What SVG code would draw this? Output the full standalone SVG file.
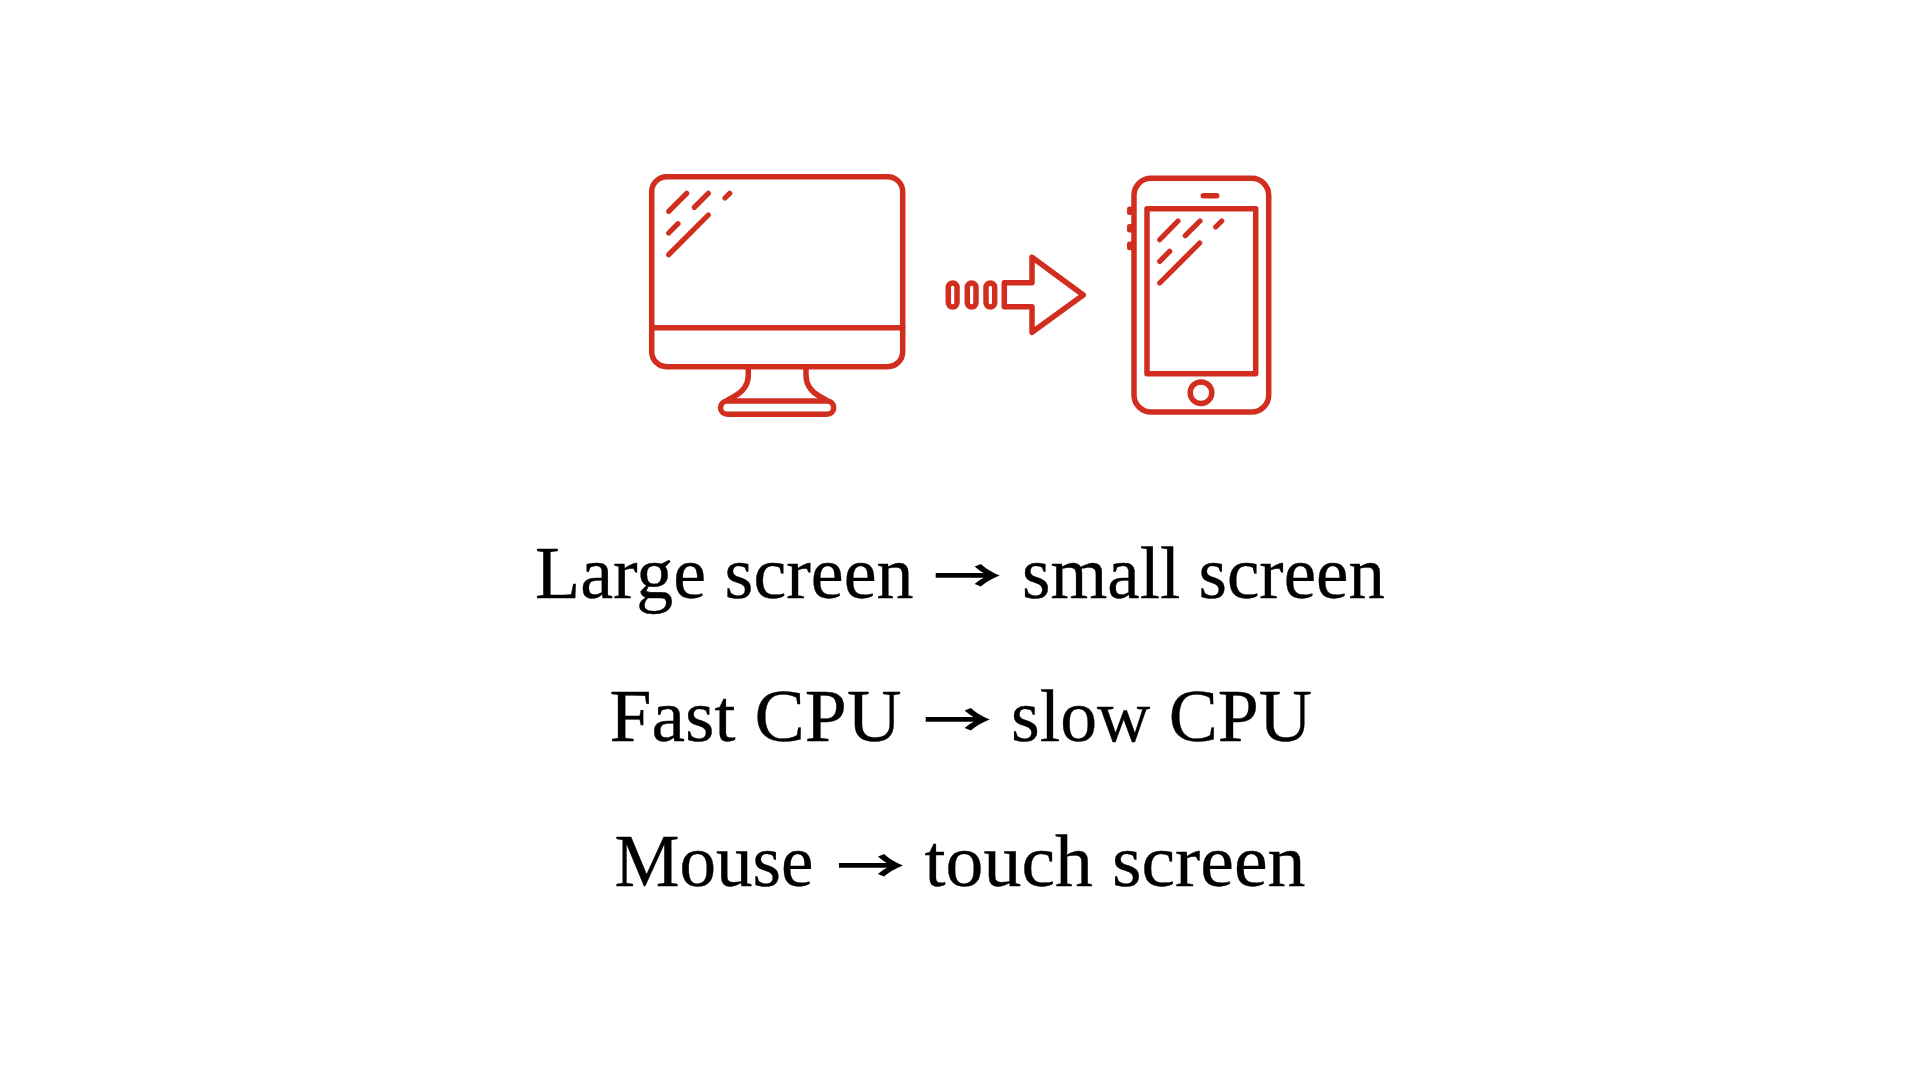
<svg xmlns="http://www.w3.org/2000/svg" width="1920" height="1080" viewBox="0 0 1920 1080">
<style>
.i{fill:none;stroke:#d12e1f;stroke-width:5.5;stroke-linecap:round;stroke-linejoin:round}
.g{stroke-width:5.2}
.b{fill:#d12e1f;stroke:none}
.t{font-family:"Liberation Serif","Times New Roman",serif;font-size:73px;fill:#000;stroke:#000;stroke-width:.35}
.a{font-family:"Noto Sans CJK SC",sans-serif;font-size:42px;fill:#000;stroke:#000;stroke-width:1.8}
</style>
<rect width="1920" height="1080" fill="#fff"/>
<g id="monitor" class="i">
<rect x="651.7" y="176.7" width="251" height="190" rx="15"/>
<path d="M651.7 327.7H902.7"/>
<path d="M748.3 367V375C748.3 385 742 392 735 396L728 400"/>
<path d="M806 367V375C806 385 812 392 819 396L826 400"/>
<rect x="720.6" y="401" width="113.1" height="13.3" rx="6.6"/>
<path class="g" d="M686.7 193.3L668.7 211.3M708.3 193.3L694.3 207.3M729.7 193.3L725 198M708.3 215L668.7 254.7M678 223.7L668.7 233"/>
</g>
<g id="connectors" class="i">
<rect x="948.3" y="283" width="8.7" height="24" rx="4.3"/>
<rect x="967.3" y="283" width="8.7" height="24" rx="4.3"/>
<rect x="986" y="283" width="8.7" height="24" rx="4.3"/>
<path d="M1004.3 282.7H1032V257.3L1083.3 295L1032 332.3V306.7H1004.3Z"/>
</g>
<g id="phone" class="i">
<rect x="1134" y="178.3" width="134.7" height="233.7" rx="17"/>
<path d="M1203.3 195.8H1216.7"/>
<rect x="1147" y="208.7" width="108.7" height="165"/>
<circle cx="1201" cy="392.7" r="10.8"/>
<rect class="b" x="1127" y="206.4" width="6.5" height="8.6" rx="2.5"/>
<rect class="b" x="1127" y="224" width="6.5" height="8.6" rx="2.5"/>
<rect class="b" x="1127" y="241.6" width="6.5" height="8.6" rx="2.5"/>
<path class="g" d="M1178 221L1159.7 239.7M1200 221L1185.3 235.7M1221.7 221L1215.7 227M1199.7 243L1159.7 283M1169.7 251.3L1159.7 261.3"/>
</g>
<g id="labels">
<text class="t" x="535" y="597.7" textLength="378.5" lengthAdjust="spacingAndGlyphs">Large screen</text>
<text class="a" x="934.5" y="591.2" textLength="65" lengthAdjust="spacingAndGlyphs">→</text>
<text class="t" x="1022" y="597.7" textLength="363" lengthAdjust="spacingAndGlyphs">small screen</text>
<text class="t" x="609.5" y="741" textLength="292" lengthAdjust="spacingAndGlyphs">Fast CPU</text>
<text class="a" x="924.5" y="734.5" textLength="65" lengthAdjust="spacingAndGlyphs">→</text>
<text class="t" x="1011" y="741" textLength="301" lengthAdjust="spacingAndGlyphs">slow CPU</text>
<text class="t" x="614.5" y="886" textLength="199" lengthAdjust="spacingAndGlyphs">Mouse</text>
<text class="a" x="837.8" y="881.2" textLength="65" lengthAdjust="spacingAndGlyphs">→</text>
<text class="t" x="924.5" y="886" textLength="381" lengthAdjust="spacingAndGlyphs">touch screen</text>
</g>
</svg>
